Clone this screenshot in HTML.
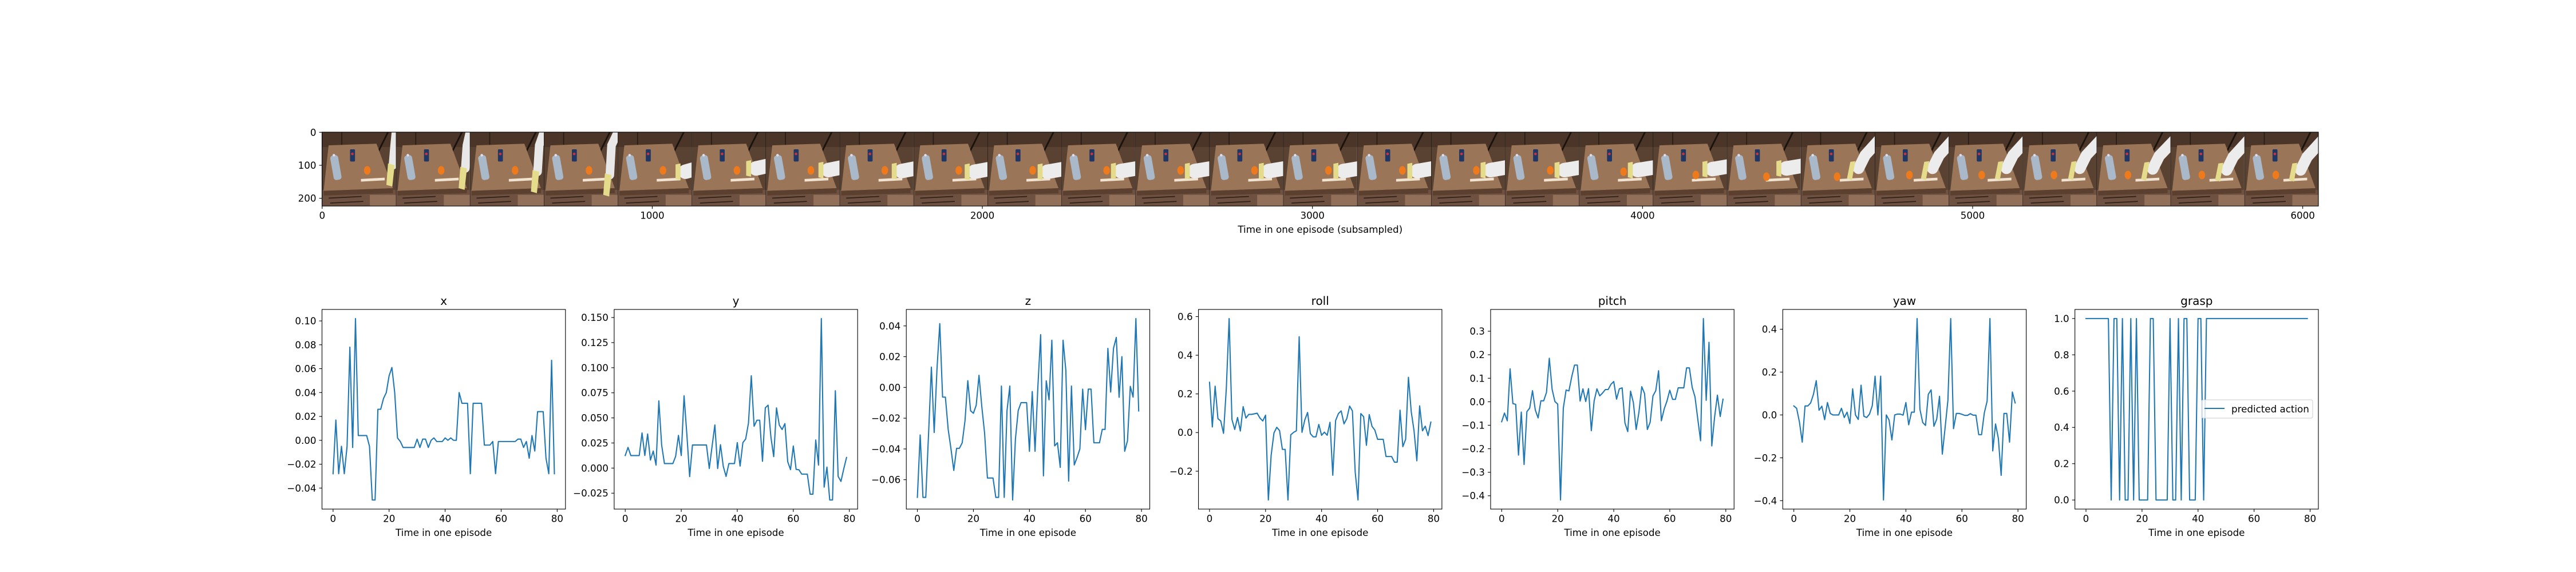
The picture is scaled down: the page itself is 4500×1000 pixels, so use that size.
<!DOCTYPE html>
<html><head><meta charset="utf-8">
<style>
html,body{margin:0;padding:0;background:#fff;}
svg{display:block;font-family:"DejaVu Sans","Liberation Sans",sans-serif;}
</style></head>
<body>
<svg id="fig" width="4500" height="1000" viewBox="0 0 4500 1000" xmlns="http://www.w3.org/2000/svg">
<rect width="4500" height="1000" fill="#fff"/>
<g id="strip"></g>
<g id="plots"></g>
</svg>
<script>
// ---- data ----
const steps = Array.from({length:80},(_,i)=>i);
const xVals = [-0.028,0.017,-0.028,-0.005,-0.028,-0.005,0.078,-0.006,0.102,0.004,0.004,0.004,0.004,-0.005,-0.05,-0.05,0.026,0.026,0.035,0.040,0.054,0.061,0.040,0.002,-0.001,-0.006,-0.006,-0.006,-0.006,-0.006,0.001,-0.006,0.001,0.001,-0.006,0.000,0.002,-0.001,-0.001,-0.001,0.002,0.000,0.002,0.000,0.000,0.040,0.031,0.031,0.031,-0.028,0.031,0.031,0.031,0.031,-0.004,-0.004,-0.004,-0.001,-0.028,-0.001,-0.001,-0.001,-0.001,-0.001,-0.001,-0.001,0.001,0.001,-0.006,-0.001,-0.015,0.004,-0.009,0.024,0.024,0.024,-0.015,-0.028,0.067,-0.028];
const yVals = [0.0125,0.0206,0.0125,0.0125,0.0125,0.0125,0.035,0.0125,0.034,0.008,0.017,0.003,0.067,0.023,0.0045,0.0045,0.0045,0.0045,0.0117,0.0326,0.0125,0.072,0.0335,-0.0085,0.023,0.023,0.023,0.023,0.023,0.023,-0.0004,0.0216,0.043,-0.0004,0.0233,0.0017,-0.0083,0.0045,0.0045,0.0045,0.0254,0.002,0.0254,0.029,0.045,0.092,0.0417,0.0477,0.0477,0.0068,0.060,0.0627,0.031,0.0114,0.060,0.0428,0.0384,0.0443,0.0064,-0.0015,0.022,-0.0013,-0.0017,-0.006,-0.006,-0.006,-0.026,-0.026,0.028,0.003,0.149,-0.019,0.001,-0.0318,-0.0318,0.077,-0.0083,-0.0133,-0.0008,0.0106];
const zVals = [-0.0715,-0.0309,-0.0715,-0.0715,-0.03,0.0132,-0.0293,0.012,0.0415,-0.0063,-0.0063,-0.0273,-0.040,-0.054,-0.0396,-0.0396,-0.036,-0.0217,0.0044,-0.0152,-0.0168,-0.0116,0.0079,-0.0125,-0.0298,-0.0589,-0.0589,-0.0589,-0.0715,-0.0715,0.0009,-0.0715,-0.015,0.0009,-0.0732,-0.0335,-0.015,-0.0099,-0.0099,-0.0099,-0.0415,-0.0027,-0.0415,0.0,0.0343,-0.0575,0.0043,-0.0081,0.0307,-0.038,-0.036,-0.052,0.0307,0.011,-0.0609,0.0009,-0.0504,-0.0456,-0.040,-0.0011,-0.0275,-0.0011,-0.0011,-0.036,-0.036,-0.036,-0.0273,-0.0273,0.0254,-0.003,0.0254,0.0325,-0.0064,0.020,-0.0415,-0.0347,0.0007,-0.0063,0.0448,-0.0153];
const rollVals = [0.26,0.029,0.24,0.072,0.06,-0.004,0.23,0.59,0.068,0.016,0.078,0.008,0.134,0.075,0.094,0.094,0.097,0.10,0.075,0.06,0.09,-0.349,-0.117,-0.002,0.027,0.01,-0.087,-0.087,-0.349,-0.012,0.001,0.009,0.496,0.001,0.065,0.104,-0.006,-0.022,-0.022,0.042,-0.014,0.002,-0.014,0.053,-0.221,0.062,0.098,0.112,0.045,0.072,0.137,0.112,-0.205,-0.349,0.098,0.082,-0.066,0.093,0.032,0.013,-0.035,-0.035,-0.035,-0.124,-0.124,-0.124,-0.153,-0.153,0.116,-0.073,-0.035,0.286,0.108,0.009,-0.146,0.138,0.009,0.033,-0.016,0.054];
const pitchVals = [-0.085,-0.048,-0.081,0.14,-0.008,-0.011,-0.227,-0.044,-0.267,-0.042,-0.027,0.047,-0.035,-0.069,0.004,0.004,0.04,0.185,0.053,0.001,-0.01,-0.418,-0.027,0.05,0.046,0.106,0.156,0.156,0.003,0.055,0.001,0.056,-0.123,0.003,0.055,0.025,0.037,0.052,0.052,0.074,0.086,0.011,0.055,0.059,-0.09,-0.127,0.045,-0.003,-0.118,-0.044,0.064,0.035,-0.118,-0.087,0.025,0.047,0.132,-0.081,-0.031,0.003,0.049,0.01,0.01,0.059,0.059,0.059,0.144,0.144,0.061,0.021,-0.074,-0.166,0.354,0.006,0.253,-0.188,-0.065,0.028,-0.063,0.011];
const yawVals = [0.042,0.031,-0.033,-0.127,0.042,0.042,0.056,0.096,0.16,0.022,0.041,-0.022,0.058,0.007,0,0,0,0.031,-0.012,0.013,-0.04,0.122,0,-0.021,0.139,-0.006,-0.012,0.004,0.043,0.181,0,0.181,-0.397,0,-0.024,-0.117,0,0.004,0.004,-0.001,0.058,-0.046,0.013,0.013,0.45,0.027,-0.035,-0.049,0.096,0.117,-0.053,-0.02,0.087,-0.183,-0.059,0.069,0.45,-0.064,0.007,0.007,0.003,-0.002,-0.002,0.006,-0.001,-0.001,-0.092,-0.092,0.01,0.065,0.45,-0.168,-0.042,-0.109,-0.282,0.007,0.007,-0.127,0.107,0.056];
const graspVals = [1,1,1,1,1,1,1,1,1,0,1,1,0,1,0,0,1,0,1,0,0,0,0,1,1,0,0,0,0,0,1,0,0,1,0,1,1,0,0,0,1,1,0,1,1,1,1,1,1,1,1,1,1,1,1,1,1,1,1,1,1,1,1,1,1,1,1,1,1,1,1,1,1,1,1,1,1,1,1,1];
const plotTitles = ["x","y","z","roll","pitch","yaw","grasp"];
const xTicks = [0,20,40,60,80];
const xTickVals = [-0.04,-0.02,0,0.02,0.04,0.06,0.08,0.10];
const yTickVals = [-0.025,0,0.025,0.05,0.075,0.1,0.125,0.15];
const zTickVals = [-0.06,-0.04,-0.02,0,0.02,0.04];
const rollTickVals = [-0.2,0,0.2,0.4,0.6];
const pitchTickVals = [-0.4,-0.3,-0.2,-0.1,0,0.1,0.2,0.3];
const yawTickVals = [-0.4,-0.2,0,0.2,0.4];
const graspTickVals = [0,0.2,0.4,0.6,0.8,1.0];
const tickDecimals = [2,3,2,1,1,1,1];
const stripXTicks = [0,1000,2000,3000,4000,5000,6000];
const stripYTicks = [0,100,200];

const NS="http://www.w3.org/2000/svg";
const FS=16.7, TFS=20;
function mk(tag,attrs,parent){const e=document.createElementNS(NS,tag);for(const k in attrs)e.setAttribute(k,attrs[k]);if(parent)parent.appendChild(e);return e;}
function fmt(v,d){const s=Math.abs(v).toFixed(d);return (v<-1e-12?"\u2212":"")+s;}

// ---- plots ----
const plotsG=document.getElementById('plots');
const series=[xVals,yVals,zVals,rollVals,pitchVals,yawVals,graspVals];
const ticksets=[xTickVals,yTickVals,zTickVals,rollTickVals,pitchTickVals,yawTickVals,graspTickVals];
const L0=562.5, W=425.3, GAP=85.06, TOP=541, BOT=890;
series.forEach((vals,k)=>{
  const left=L0+k*(W+GAP), right=left+W;
  const g=mk('g',{},plotsG);
  
  
  let mn=Math.min(...vals), mx=Math.max(...vals); const pad=(mx-mn)*0.05; mn-=pad; mx+=pad;
  const xmin=-3.95,xmax=82.95;
  const sx=v=>left+(v-xmin)/(xmax-xmin)*W;
  const sy=v=>BOT-(v-mn)/(mx-mn)*(BOT-TOP);
  const d=vals.map((v,i)=>(i?'L':'M')+sx(steps[i]).toFixed(2)+' '+sy(v).toFixed(2)).join(' ');
  const p=mk('path',{d:d,fill:'none',stroke:'#1f77b4','stroke-width':2.08,'stroke-linejoin':'round','stroke-linecap':'square'},g);
  
  
  const fr=mk('rect',{x:left,y:TOP,width:W,height:BOT-TOP,fill:'none',stroke:'#000','stroke-width':1.1},g);
  
  
  xTicks.forEach(t=>{const x=sx(t);
    mk('line',{x1:x,x2:x,y1:BOT,y2:BOT+4.9,stroke:'#000','stroke-width':1.1},g);
    const tx=mk('text',{x:x,y:BOT+22.5,'font-size':FS,'text-anchor':'middle',fill:'#000'},g);
    
    
    tx.textContent=String(t);});
  ticksets[k].forEach(t=>{const y=sy(t);
    mk('line',{x1:left-4.9,x2:left,y1:y,y2:y,stroke:'#000','stroke-width':1.1},g);
    const ty=mk('text',{x:left-10,y:y+6,'font-size':FS,'text-anchor':'end',fill:'#000'},g);
    
    
    ty.textContent=fmt(t,tickDecimals[k]);});
  const ti=mk('text',{x:left+W/2,y:TOP-8,'font-size':TFS,'text-anchor':'middle',fill:'#000'},g);
  
  
  ti.textContent=plotTitles[k];
  const xl=mk('text',{x:left+W/2,y:937,'font-size':FS,'text-anchor':'middle',fill:'#000'},g);
  
  
  xl.textContent='Time in one episode';
  if(k===6){
    const lg=mk('g',{},g);
    
    
    mk('rect',{x:3846,y:699,width:194,height:32,rx:3,fill:'#fff','fill-opacity':0.8,stroke:'#ccc','stroke-width':1},lg);
    mk('line',{x1:3851,x2:3886,y1:714,y2:714,stroke:'#1f77b4','stroke-width':2.08},lg);
    const lt=mk('text',{x:3898,y:721,'font-size':FS,fill:'#000'},lg);
    
    
    lt.textContent='predicted action';
  }
});

// ---- image strip ----
const strip=document.getElementById('strip');
const SL=562.5, SR=4050, ST=231, SB=360.2, IW=6048, IH=224;
const ux=(SR-SL)/IW, uy=(SB-ST)/IH;
const sxI=v=>SL+(v+0.5)*ux, syI=v=>ST+(v+0.5)*uy;
const armX=[205,200,195,190,175,165,160,158,155,152,150,150,150,152,152,150,150,148,150,150,150,150,150,148,145,145,145];
const armY=[120,130,140,150,120,110,115,118,120,120,118,118,118,118,118,115,115,115,112,110,110,110,110,110,112,115,115];
const orX=[137,137,137,137,137,137,137,137,137,137,137,137,137,137,137,137,137,135,130,120,110,105,100,95,95,95,95];
const orY=[116,116,116,116,116,116,116,116,116,116,116,116,116,116,116,116,116,120,130,135,135,130,130,130,130,130,130];
const defs=mk('defs',{},strip);
const cp=mk('clipPath',{id:'fclip'},defs);
mk('rect',{x:0,y:0,width:224,height:224},cp);
for(let f=0;f<27;f++){
  const g=mk('g',{transform:`translate(${SL+f*224*ux},${ST}) scale(${ux},${uy})`,'clip-path':'url(#fclip)'},strip);
  
  
  mk('rect',{x:0,y:0,width:224,height:224,fill:'#5a4232'},g);
  mk('rect',{x:0,y:0,width:224,height:45,fill:'#4a3528'},g);
  mk('line',{x1:60,y1:0,x2:60,y2:40,stroke:'#2a1c14','stroke-width':3},g);
  mk('line',{x1:200,y1:0,x2:170,y2:60,stroke:'#1a120c','stroke-width':5},g);
  mk('rect',{x:0,y:175,width:224,height:49,fill:'#6e5140'},g);
  mk('polygon',{points:'20,40 165,35 215,170 5,178',fill:'#9a7558'},g);
  mk('polygon',{points:'5,178 215,170 215,185 5,192',fill:'#5b4030'},g);
  mk('line',{x1:20,y1:200,x2:120,y2:195,stroke:'#2e2018','stroke-width':3},g);
  mk('line',{x1:25,y1:215,x2:125,y2:210,stroke:'#2e2018','stroke-width':3},g);
  mk('rect',{x:145,y:190,width:79,height:34,fill:'#a07c62','fill-opacity':0.7},g);
  mk('polygon',{points:'118,142 190,138 190,146 118,150',fill:'#f0e3cf'},g);
  mk('rect',{x:30,y:70,width:24,height:75,rx:8,fill:'#a9b9c9',transform:'rotate(-10 42 107)'},g);
  mk('circle',{cx:36,cy:70,r:4,fill:'#dde'},g);
  mk('rect',{x:85,y:52,width:15,height:37,rx:3,fill:'#1f3766'},g);
  mk('circle',{cx:92,cy:66,r:4,fill:'#c33'},g);
  mk('ellipse',{cx:orX[f],cy:orY[f],rx:10,ry:13,fill:'#ef7a1c'},g);
  const ax=armX[f], ay=armY[f];
  if(f<4){
    mk('path',{d:`M224 0 L${ax+15} 40 L${ax+10} ${ay-20}`,stroke:'#e8e8e8','stroke-width':26,fill:'none','stroke-linecap':'round'},g);
    mk('polygon',{points:`${ax-5},${ay-25} ${ax+15},${ay-20} ${ax+8},${ay+45} ${ax-10},${ay+40}`,fill:'#e4dc8a'},g);
  } else if(f<20){
    mk('path',{d:`M240 ${ay-10} L${ax+30} ${ay}`,stroke:'#ececec','stroke-width':44,fill:'none','stroke-linecap':'round'},g);
    mk('polygon',{points:`${ax},${ay-22} ${ax+15},${ay-25} ${ax+15},${ay+25} ${ax},${ay+22}`,fill:'#e4dc8a'},g);
  } else {
    mk('path',{d:`M240 20 L${ax+45} ${ay-40} L${ax+25} ${ay}`,stroke:'#ececec','stroke-width':34,fill:'none','stroke-linecap':'round'},g);
    mk('polygon',{points:`${ax},${ay-20} ${ax+15},${ay-22} ${ax+5},${ay+35} ${ax-10},${ay+30}`,fill:'#e4dc8a'},g);
  }
  mk('line',{x1:0,y1:0,x2:0,y2:224,stroke:'#111','stroke-width':2},g);
}
const sf=mk('rect',{x:SL,y:ST,width:SR-SL,height:SB-ST,fill:'none',stroke:'#000','stroke-width':1.1},strip);


stripXTicks.forEach(t=>{const x=sxI(t);
  mk('line',{x1:x,x2:x,y1:SB,y2:SB+4.9,stroke:'#000','stroke-width':1.1},strip);
  const tx=mk('text',{x:x,y:SB+22.5,'font-size':FS,'text-anchor':'middle',fill:'#000'},strip);
  
  
  tx.textContent=String(t);});
stripYTicks.forEach(t=>{const y=syI(t);
  mk('line',{x1:SL-4.9,x2:SL,y1:y,y2:y,stroke:'#000','stroke-width':1.1},strip);
  const ty=mk('text',{x:SL-10,y:y+6,'font-size':FS,'text-anchor':'end',fill:'#000'},strip);
  
  
  ty.textContent=String(t);});
const stl=mk('text',{x:(SL+SR)/2,y:407,'font-size':FS,'text-anchor':'middle',fill:'#000'},strip);


stl.textContent='Time in one episode (subsampled)';
</script>
</body></html>
